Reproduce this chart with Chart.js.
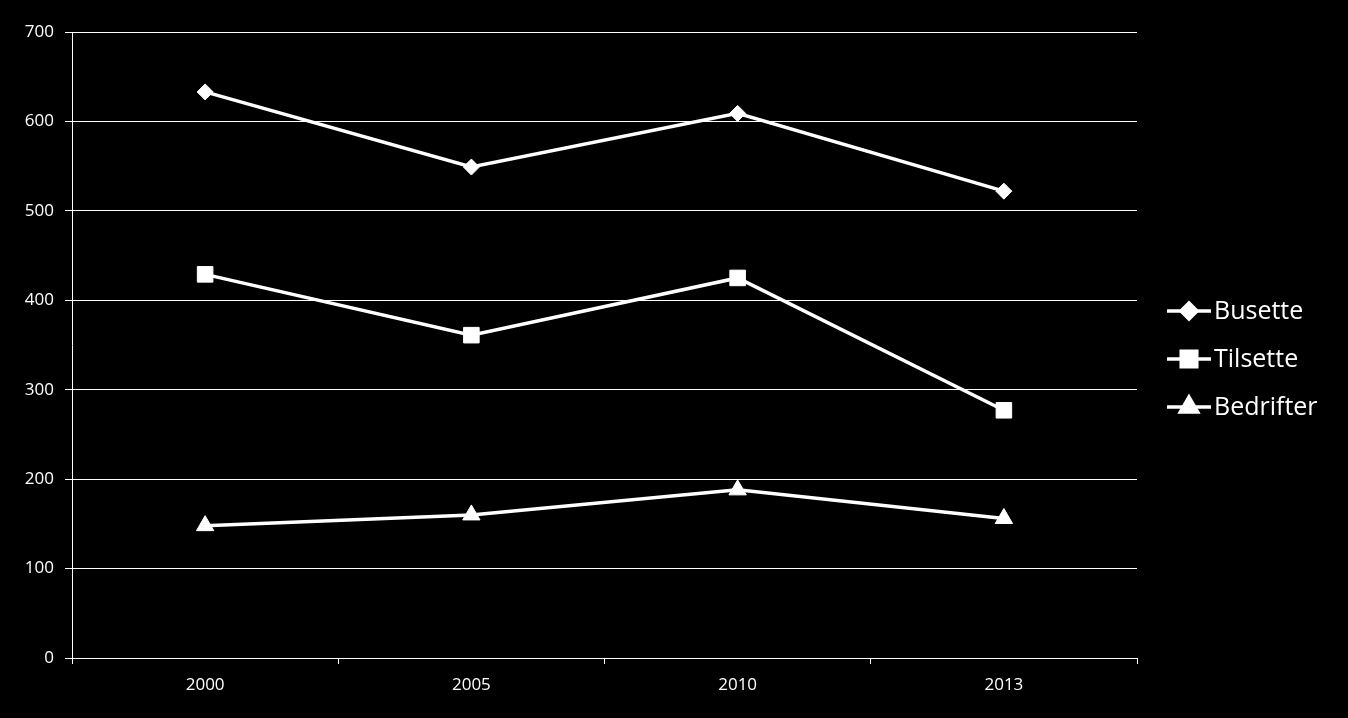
<!DOCTYPE html>
<html>
<head>
<meta charset="utf-8">
<script src="https://cdn.jsdelivr.net/npm/chart.js@4"></script>
<style>
  html, body { margin: 0; padding: 0; background: #000; }
  #wrap { width: 1348px; height: 718px; }
</style>
</head>
<body>
<div id="wrap"><canvas id="lineChart"></canvas></div>
<script>
// categories + series
const years = ['2000', '2005', '2010', '2013'];
const busette = [633, 549, 609, 522];
const tilsette = [429, 361, 425, 277];
const bedrifter = [148, 160, 188, 156];

const FONT = "'Open Sans', 'Noto Sans', sans-serif";

// legend with a line through the marker, drawn by hand
const sideLegend = {
  id: 'sideLegend',
  afterDraw(chart) {
    const c = chart.ctx;
    const ys = [311, 359, 407];
    c.save();
    chart.data.datasets.forEach((ds, i) => {
      const y = ys[i];
      c.strokeStyle = '#fff';
      c.lineWidth = 3.5;
      c.beginPath();
      c.moveTo(1167, y);
      c.lineTo(1211, y);
      c.stroke();
      Chart.helpers.drawPoint(c, {
        pointStyle: ds.pointStyle,
        radius: ds.pointRadius,
        rotation: 0,
        borderWidth: 1
      }, 1189, y);
      c.fillStyle = '#fff';
      c.fill();
      c.font = '25px ' + FONT;
      c.textBaseline = 'middle';
      c.fillText(ds.label, 1214, y + 1);
    });
    c.restore();
  }
};

const mkSet = (label, data, style, r) => ({
  label: label,
  data: data,
  borderColor: '#fff',
  backgroundColor: '#fff',
  borderWidth: 3.5,
  pointStyle: style,
  pointRadius: r,
  pointHoverRadius: r,
  pointBorderWidth: 1,
  pointBorderColor: '#fff',
  pointBackgroundColor: '#fff',
  tension: 0
});

new Chart(document.getElementById('lineChart'), {
  type: 'line',
  data: {
    labels: years,
    datasets: [
      mkSet('Busette', busette, 'rectRot', 8),
      mkSet('Tilsette', tilsette, 'rect', 11),
      mkSet('Bedrifter', bedrifter, 'triangle', 10)
    ]
  },
  options: {
    responsive: true,
    maintainAspectRatio: false,
    animation: false,
    layout: { padding: { top: 32, right: 211, left: 0, bottom: 0 } },
    plugins: {
      legend: { display: false },
      tooltip: { enabled: false }
    },
    scales: {
      x: {
        offset: true,
        grid: {
          offset: true,
          drawOnChartArea: false,
          drawTicks: true,
          tickLength: 6,
          color: '#fff',
          lineWidth: 1
        },
        border: { color: '#fff', width: 1 },
        ticks: { color: '#fff', font: { family: FONT, size: 17 }, padding: 11 },
        afterFit(s) { s.height = 60; }
      },
      y: {
        min: 0,
        max: 700,
        ticks: { stepSize: 100, color: '#fff', font: { family: FONT, size: 17 }, padding: 11 },
        grid: { color: '#fff', lineWidth: 1, tickLength: 7 },
        border: { color: '#fff', width: 1 },
        afterFit(s) { s.width = 72; }
      }
    }
  },
  plugins: [sideLegend]
});
</script>
</body>
</html>
